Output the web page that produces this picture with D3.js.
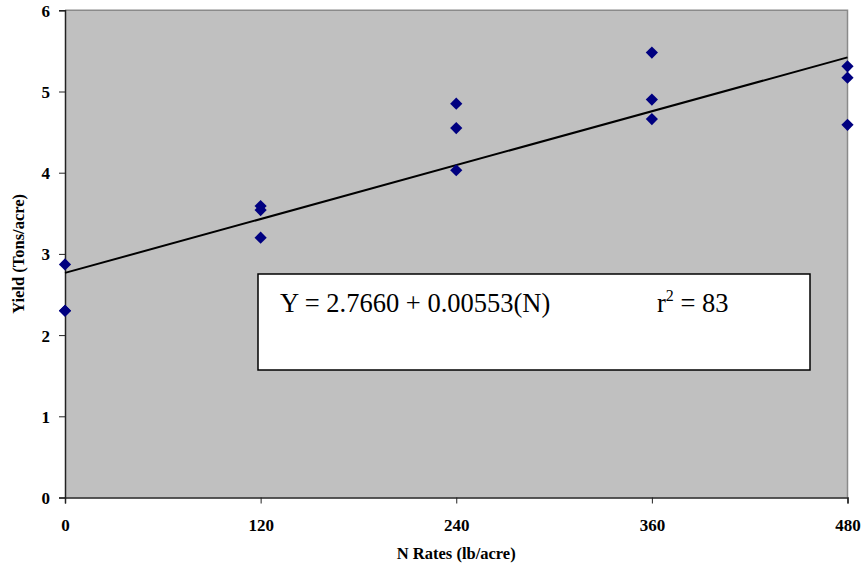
<!DOCTYPE html>
<html>
<head>
<meta charset="utf-8">
<script src="https://cdn.jsdelivr.net/npm/d3@7"></script>
<style>
  html, body { margin: 0; padding: 0; background: #fff; }
  svg { display: block; }
  text { font-family: "Liberation Serif", "Times New Roman", serif; }
</style>
</head>
<body>
<svg id="chart" width="863" height="567"></svg>
<script>
// Nitrogen rate (lb/acre) for each observation
const nRates = [0, 0, 0, 120, 120, 120, 240, 240, 240, 360, 360, 360, 480, 480, 480];
// Yield (tons/acre) for each observation
const yields = [2.87, 2.30, 2.30, 3.59, 3.54, 3.20, 4.85, 4.55, 4.03, 5.48, 4.90, 4.66, 5.31, 5.17, 4.59];
const xTicks = [0, 120, 240, 360, 480];
const yTicks = [0, 1, 2, 3, 4, 5, 6];
// Fitted regression coefficients
const intercept = 2.7660;
const slope = 0.00553;
const rSquared = 83;

const svg = d3.select("#chart");
const margin = { left: 65, top: 10, right: 15, bottom: 70 };
const W = 863, H = 567;
const x = d3.scaleLinear().domain([0, 480]).range([margin.left, W - margin.right - 0.5]);
const y = d3.scaleLinear().domain([0, 6]).range([H - margin.bottom + 0.5, margin.top + 0.3]);

// plot area
svg.append("rect")
  .attr("x", x(0)).attr("y", y(6))
  .attr("width", x(480) - x(0)).attr("height", y(0) - y(6))
  .attr("fill", "#c0c0c0");
// top and right frame
svg.append("path")
  .attr("d", `M${x(0)},${y(6)}H${x(480)}V${y(0)}`)
  .attr("fill", "none").attr("stroke", "#8a8a8a").attr("stroke-width", 1.5);

// axes
const yAxis = d3.axisLeft(y).tickValues(yTicks).tickSize(6).tickFormat(d3.format("d"));
const xAxis = d3.axisBottom(x).tickValues(xTicks).tickSize(6).tickFormat(d3.format("d"));

const gy = svg.append("g").attr("transform", `translate(${x(0)},0)`).call(yAxis);
const gx = svg.append("g").attr("transform", `translate(0,${y(0)})`).call(xAxis);
[gx, gy].forEach(g => {
  g.select(".domain").attr("stroke", "#222").attr("stroke-width", 1.5);
  g.selectAll(".tick line").attr("stroke", "#222").attr("stroke-width", 1);
  g.selectAll("text")
    .attr("fill", "#000")
    .style("font-family", "'Liberation Serif', 'Times New Roman', serif")
    .style("font-size", "17px").style("font-weight", "bold");
});
gy.selectAll("text").attr("x", -15).attr("dy", "0.35em");
gx.selectAll("text").attr("y", 21).attr("dy", "0.71em");

// regression line
svg.append("line")
  .attr("x1", x(0)).attr("y1", y(intercept))
  .attr("x2", x(480)).attr("y2", y(intercept + slope * 480))
  .attr("stroke", "#000").attr("stroke-width", 2);

// observations
const diamond = d3.symbol().type(d3.symbolDiamond2).size(95);
svg.append("g").selectAll("path")
  .data(nRates.map((n, i) => [n, yields[i]]))
  .join("path")
  .attr("d", diamond)
  .attr("transform", d => `translate(${x(d[0])},${y(d[1])})`)
  .attr("fill", "#000080");

// equation box
svg.append("rect")
  .attr("x", 258).attr("y", 274).attr("width", 552).attr("height", 96)
  .attr("fill", "#fff").attr("stroke", "#000").attr("stroke-width", 1.5);
svg.append("text")
  .attr("x", 280).attr("y", 312)
  .style("font-size", "26.5px")
  .text(`Y = ${intercept.toFixed(4)} + ${slope.toFixed(5)}(N)`);
const r2 = svg.append("text").attr("x", 657).attr("y", 312).style("font-size", "26.5px");
r2.append("tspan").text("r");
r2.append("tspan").attr("dy", -11).style("font-size", "16px").text("2");
r2.append("tspan").attr("dy", 11).text(` = ${rSquared}`);

// axis titles
svg.append("text")
  .attr("x", x(240)).attr("y", 559)
  .attr("text-anchor", "middle")
  .style("font-size", "16.5px").style("font-weight", "bold")
  .text("N Rates (lb/acre)");
svg.append("text")
  .attr("transform", `translate(24,${(y(0) + y(6)) / 2}) rotate(-90)`)
  .attr("text-anchor", "middle")
  .style("font-size", "16.5px").style("font-weight", "bold")
  .text("Yield (Tons/acre)");
</script>
</body>
</html>
